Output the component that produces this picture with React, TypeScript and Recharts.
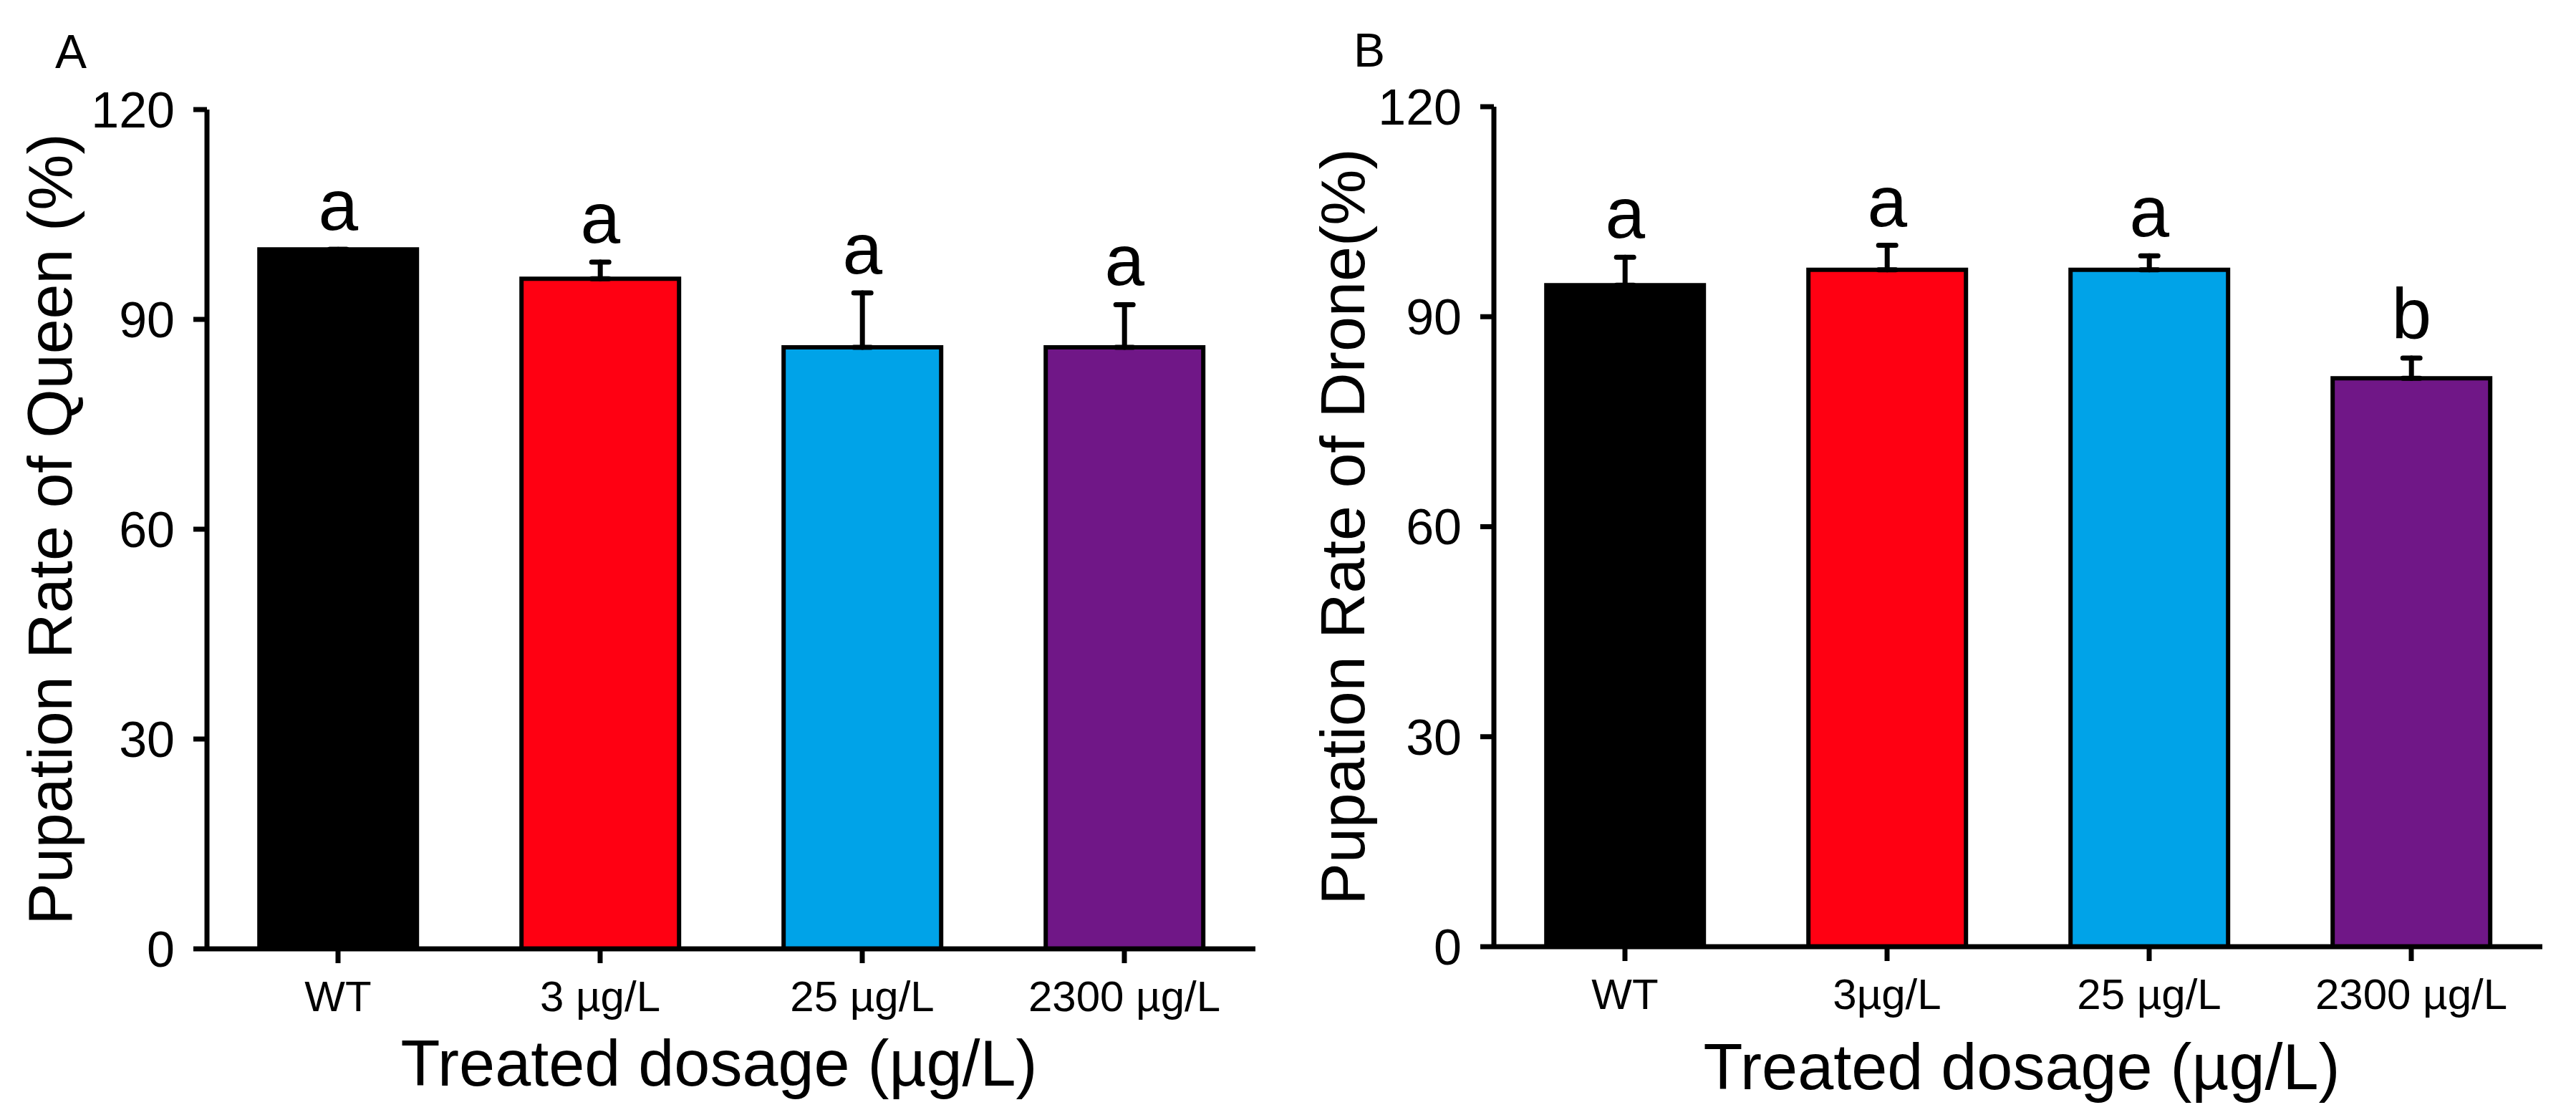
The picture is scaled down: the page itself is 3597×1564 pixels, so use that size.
import React from "react";
import { BarChart, Bar, XAxis, YAxis, ErrorBar, Cell, LabelList, Label } from "recharts";

const queenCategories = ["WT", "3 µg/L", "25 µg/L", "2300 µg/L"];
const queenMean = [100, 95.8, 86.0, 86.0];
const queenErr = [0, 2.4, 7.8, 6.1];
const queenSig = ["a", "a", "a", "a"];

const droneCategories = ["WT", "3µg/L", "25 µg/L", "2300 µg/L"];
const droneMean = [94.5, 96.7, 96.7, 81.2];
const droneErr = [4.0, 3.5, 2.0, 2.9];
const droneSig = ["a", "a", "a", "b"];

const barColors = ["#000000", "#FF0012", "#00A3E8", "#701787"];
const yTicks = [0, 30, 60, 90, 120];

const FONT = "'Liberation Sans', Arial, Helvetica, sans-serif";

type PanelProps = {
  categories: string[];
  mean: number[];
  err: number[];
  sig: string[];
  yTitle: string;
  top: number;
  bottom: number;
  yTitleOffset: number;
  xTitleDy: number;
  xTitleDx: number;
};

function Panel({ categories, mean, err, sig, yTitle, top, bottom, yTitleOffset, xTitleDy, xTitleDx }: PanelProps) {
  const data = categories.map((name, i) => ({
    name,
    mean: mean[i],
    err: [0, err[i]],
    sig: sig[i],
  }));

  // significance letter sits a little above the error bar cap
  const renderSig = (props: any) => {
    const vb = props.viewBox ?? props;
    const x = vb.x ?? props.x;
    const y = vb.y ?? props.y;
    const w = vb.width ?? props.width;
    const h = vb.height ?? props.height;
    const i = props.index;
    const pxPerUnit = h / mean[i];
    const ty = y - err[i] * pxPerUnit - 27;
    return (
      <text x={x + w / 2} y={ty} textAnchor="middle" fontSize={100} fontFamily={FONT} fill="#000">
        {sig[i]}
      </text>
    );
  };

  const renderYTitle = (props: any) => {
    const vb = props.viewBox;
    const cx = vb.x + vb.width - yTitleOffset;
    const cy = vb.y + vb.height / 2;
    return (
      <text
        x={cx}
        y={cy}
        transform={`rotate(-90 ${cx} ${cy})`}
        textAnchor="middle"
        fontSize={88}
        fontFamily={FONT}
        fill="#000"
      >
        {yTitle}
      </text>
    );
  };

  const renderXTitle = (props: any) => {
    const vb = props.viewBox;
    return (
      <text
        x={vb.x + vb.width / 2 + xTitleDx}
        y={vb.y + xTitleDy}
        textAnchor="middle"
        fontSize={90}
        fontFamily={FONT}
        fill="#000"
      >
        Treated dosage (µg/L)
      </text>
    );
  };

  return (
    <BarChart
      width={1800}
      height={1564}
      data={data}
      margin={{ top, right: 47, bottom, left: 189 }}
      barCategoryGap="20%"
    >
      <XAxis
        dataKey="name"
        height={100}
        axisLine={{ stroke: "#000", strokeWidth: 7 }}
        tickLine={{ stroke: "#000", strokeWidth: 7 }}
        tickSize={20}
        tickMargin={24}
        tick={{ fontSize: 60, fill: "#000", fontFamily: FONT }}
        interval={0}
      >
        <Label content={renderXTitle} />
      </XAxis>
      <YAxis
        width={100}
        domain={[0, 120]}
        ticks={yTicks}
        interval={0}
        axisLine={{ stroke: "#000", strokeWidth: 7 }}
        tickLine={{ stroke: "#000", strokeWidth: 7 }}
        tickSize={19}
        tickMargin={26}
        tick={{ fontSize: 70, fill: "#000", fontFamily: FONT }}
      >
        <Label content={renderYTitle} />
      </YAxis>
      <Bar dataKey="mean" stroke="#000" strokeWidth={6} isAnimationActive={false}>
        {data.map((_, i) => (
          <Cell key={i} fill={barColors[i]} />
        ))}
        <ErrorBar
          dataKey="err"
          direction="y"
          width={12}
          stroke="#000"
          strokeWidth={7}
          strokeLinecap="round"
          isAnimationActive={false}
        />
        <LabelList dataKey="sig" content={renderSig} />
      </Bar>
    </BarChart>
  );
}

export default function App() {
  return (
    <div style={{ position: "absolute", left: 0, top: 0, width: 3597, height: 1564, background: "#fff" }}>
      <div style={{ position: "absolute", left: 0, top: 0 }}>
        <Panel
          categories={queenCategories}
          mean={queenMean}
          err={queenErr}
          sig={queenSig}
          yTitle="Pupation Rate of Queen (%)"
          top={153}
          bottom={139}
          yTitleOffset={189}
          xTitleDy={191}
          xTitleDx={-17}
        />
      </div>
      <div style={{ position: "absolute", left: 1797, top: 0 }}>
        <Panel
          categories={droneCategories}
          mean={droneMean}
          err={droneErr}
          sig={droneSig}
          yTitle="Pupation Rate of Drone(%)"
          top={149}
          bottom={142}
          yTitleOffset={181}
          xTitleDy={199}
          xTitleDx={5}
        />
      </div>
      <svg
        width={3597}
        height={1564}
        style={{ position: "absolute", left: 0, top: 0, pointerEvents: "none" }}
      >
        <text x={77} y={95} fontSize={66} fontFamily={FONT} fill="#000">
          A
        </text>
        <text x={1890} y={93} fontSize={66} fontFamily={FONT} fill="#000">
          B
        </text>
      </svg>
    </div>
  );
}
